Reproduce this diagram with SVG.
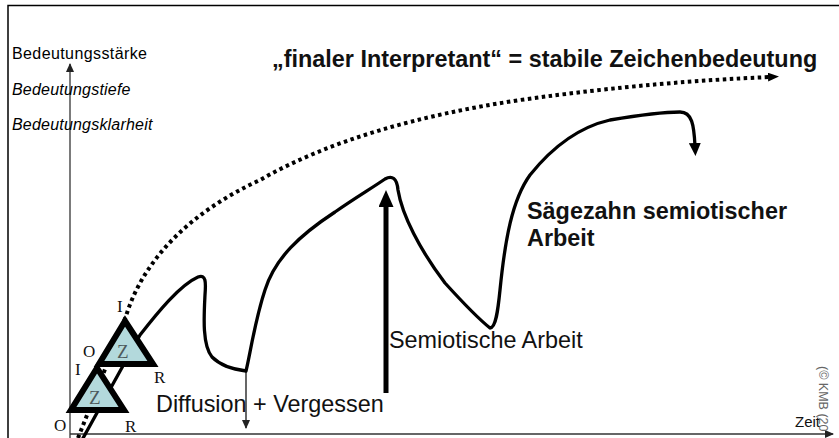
<svg xmlns="http://www.w3.org/2000/svg" width="839" height="438" viewBox="0 0 839 438">
<style>
.lbl{font-family:"Liberation Sans",Arial,sans-serif;fill:#000}
.ax{font-family:"Liberation Sans",Arial,sans-serif;font-size:15px;fill:#111}
.it{font-style:italic}
.big{font-family:"Liberation Sans",Arial,sans-serif;font-size:23.4px;fill:#111}
.bold{font-weight:bold}
.tri{fill:#b3d9dc;stroke:#000;stroke-width:6;stroke-linejoin:miter}
.corner{font-family:"Liberation Serif","Times New Roman",serif;font-size:17px;fill:#111}
.z{font-family:"Liberation Serif","Times New Roman",serif;font-size:19px;fill:#4d5a5c}
.axis{stroke:#333;stroke-width:1.3;fill:none}
.curve{stroke:#000;stroke-width:3.3;fill:none;stroke-linejoin:round;stroke-linecap:round}
.dots{stroke:#000;stroke-width:4;fill:none;stroke-dasharray:3.5 3.5}
</style>
<defs>
<marker id="aSmall" markerUnits="userSpaceOnUse" markerWidth="9" markerHeight="8" refX="8" refY="4" orient="auto"><path d="M0,0 L9,4 L0,8 z" fill="#222"/></marker>
<marker id="aCurve" markerUnits="userSpaceOnUse" markerWidth="13" markerHeight="12" refX="3" refY="6" orient="auto"><path d="M0,0 L13,6 L0,12 z" fill="#000"/></marker>
<marker id="aThick" markerUnits="userSpaceOnUse" markerWidth="17" markerHeight="15" refX="4" refY="7.5" orient="auto"><path d="M0,0 L17,7.5 L0,15 z" fill="#000"/></marker>
<marker id="aDots" markerUnits="userSpaceOnUse" markerWidth="11" markerHeight="9" refX="2" refY="4.5" orient="auto"><path d="M0,0 L11,4.5 L0,9 z" fill="#000"/></marker>
</defs>
<rect width="839" height="438" fill="#fff"/>
<g id="frame">
<path d="M8,438 L8,5.5 L839,5.5" fill="none" stroke="#000" stroke-width="1.5"/>
</g>
<g id="axes">
<line class="axis" x1="70" y1="438" x2="70" y2="64" marker-end="url(#aSmall)"/>
<line class="axis" x1="70" y1="434" x2="833" y2="434" marker-end="url(#aSmall)"/>
</g>
<g id="connectors">
<path class="dots" d="M78,438 L126,316 C145,255 195,210 260,180 C330,140 420,115 520,100 C620,86 700,80 770,77" marker-end="url(#aDots)"/>
<path class="curve" d="M82,440 L140,335 C158,312 180,285 198,277 C206,274 206,282 205,295 C204,315 202,345 212,357 C222,367 238,370 246,371 C250,355 255,320 265,290 C275,258 300,235 335,212 C355,198 372,188 385,179 C392,175 397,178 398,190 C402,215 420,250 445,283 C465,305 480,320 490,328 C496,328 498,310 500,290 C505,240 512,200 530,175 C550,150 575,128 610,120 C640,115 665,112 680,112 C692,112 694,125 695,146" marker-end="url(#aCurve)"/>
<line x1="246" y1="372" x2="246" y2="428" stroke="#000" stroke-width="1.2" marker-end="url(#aSmall)"/>
<line x1="386" y1="393" x2="386" y2="203" stroke="#000" stroke-width="5" marker-end="url(#aThick)"/>
</g>
<g id="sign-lower">
<polygon class="tri" points="97,368 71,410 124,410"/>
<text class="z" x="89" y="404">Z</text>
<text class="corner" x="75" y="375">I</text>
<text class="corner" x="54" y="431">O</text>
<text class="corner" x="125" y="432">R</text>
</g>
<g id="sign-upper">
<polygon class="tri" points="125,321 99,364 153,364"/>
<text class="z" x="117" y="358">Z</text>
<text class="corner" x="117" y="312">I</text>
<text class="corner" x="83" y="357">O</text>
<text class="corner" x="154" y="383">R</text>
</g>
<g id="labels">
<text class="lbl" x="12" y="59" font-size="16" letter-spacing="0.4">Bedeutungsstärke</text>
<text class="lbl it" x="12" y="95" font-size="16" letter-spacing="0.2">Bedeutungstiefe</text>
<text class="lbl it" x="12" y="130" font-size="16" letter-spacing="0.2">Bedeutungsklarheit</text>
<text class="big bold" x="272" y="67" font-size="24">„finaler Interpretant“ = stabile Zeichenbedeutung</text>
<text class="big bold" x="527" y="219" font-size="23.8">Sägezahn semiotischer</text>
<text class="big bold" x="527" y="246" font-size="23.8">Arbeit</text>
<text class="big" x="389" y="348">Semiotische Arbeit</text>
<text class="big" x="156" y="412">Diffusion + Vergessen</text>
<text class="ax" x="795" y="427">Zeit</text>
<text x="819" y="366" transform="rotate(90 819 366)" font-family="'Liberation Sans',Arial,sans-serif" font-size="12.5" fill="#666">(© KMB (20</text>
</g>
</svg>
